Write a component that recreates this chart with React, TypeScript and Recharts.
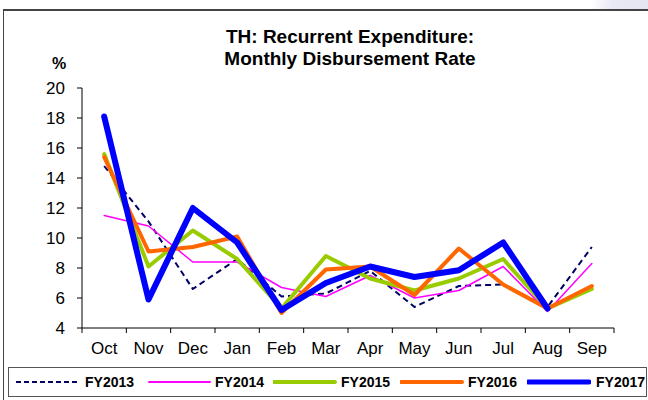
import { LineChart, Line, XAxis, YAxis } from 'recharts';

const months = ['Oct', 'Nov', 'Dec', 'Jan', 'Feb', 'Mar', 'Apr', 'May', 'Jun', 'Jul', 'Aug', 'Sep'];
const fy2013 = [14.8, 11.1, 6.6, 8.6, 6.1, 6.3, 7.8, 5.4, 6.8, 6.9, 5.4, 9.4];
const fy2014 = [11.5, 10.8, 8.4, 8.4, 6.7, 6.1, 7.5, 6.0, 6.5, 8.1, 5.1, 8.3];
const fy2015 = [15.6, 8.1, 10.5, 8.6, 5.3, 8.8, 7.3, 6.5, 7.3, 8.6, 5.3, 6.6];
const fy2016 = [15.4, 9.1, 9.4, 10.1, 5.0, 7.9, 8.1, 6.2, 9.3, 6.9, 5.3, 6.8];
const fy2017 = [18.1, 5.9, 12.0, 9.7, 5.2, 7.0, 8.1, 7.4, 7.85, 9.7, 5.3, null];
const yTicks = [4, 6, 8, 10, 12, 14, 16, 18, 20];

// x positions: band centres on a 0..12 numeric axis so tick marks sit between months
const chartData = months.map((m, i) => ({
    month: m,
    pos: i + 0.5,
    FY2013: fy2013[i],
    FY2014: fy2014[i],
    FY2015: fy2015[i],
    FY2016: fy2016[i],
    FY2017: fy2017[i],
}));

const series = [
    { key: 'FY2013', color: '#000066', width: 2, dash: '6 4', lx: 15, tx: 85 },
    { key: 'FY2014', color: '#ff00ff', width: 1.5, dash: undefined, lx: 148, tx: 215 },
    { key: 'FY2015', color: '#99cc00', width: 4, dash: undefined, lx: 273, tx: 341 },
    { key: 'FY2016', color: '#ff6600', width: 4, dash: undefined, lx: 400, tx: 468 },
    { key: 'FY2017', color: '#0000ff', width: 6, dash: undefined, lx: 527, tx: 596 },
];

const boundaryTicks = months.map((_, i) => i).concat([12]);
const labelTicks = months.map((_, i) => i + 0.5);

export default function App() {
    return (
        <div style={{ position: 'relative', width: 648, height: 400, background: '#fff', fontFamily: 'Arial, "Liberation Sans", sans-serif', overflow: 'hidden' }}>
            <style>{`body{margin:0}`}</style>
            <div style={{ position: 'absolute', left: 560, top: 0, width: 88, height: 10, background: 'linear-gradient(100deg, #fff 0%, #fff 35%, #e8e8f4 60%, #e6e6f2 100%)' }} />
            <div style={{ position: 'absolute', left: 3, top: 9, width: 660, height: 400, borderTop: '2px solid #444', borderLeft: '1px solid #444' }} />

            <div style={{ position: 'absolute', left: 150, width: 400, top: 26, textAlign: 'center', fontWeight: 'bold', fontSize: 19, lineHeight: '22px', color: '#000' }}>
                <div style={{ height: 22 }}>TH: Recurrent Expenditure:</div>
                <div style={{ height: 22 }}>Monthly Disbursement Rate</div>
            </div>
            <div style={{ position: 'absolute', left: 52, top: 55, fontWeight: 'bold', fontSize: 16, color: '#000' }}>%</div>

            <div style={{ position: 'absolute', left: 0, top: 0 }}>
                <LineChart width={648} height={400} data={chartData} margin={{ top: 88, right: 34, left: 22, bottom: 41 }}>
                    <XAxis
                        xAxisId="grid"
                        type="number"
                        dataKey="pos"
                        domain={[0, 12]}
                        ticks={boundaryTicks}
                        tickFormatter={() => ''}
                        tickSize={5}
                        height={1}
                        allowDataOverflow
                        axisLine={{ stroke: '#000' }}
                        tickLine={{ stroke: '#000' }}
                    />
                    <XAxis
                        xAxisId="lab"
                        type="number"
                        dataKey="pos"
                        domain={[0, 12]}
                        ticks={labelTicks}
                        tickFormatter={(v: number) => months[Math.floor(v)]}
                        allowDataOverflow
                        axisLine={false}
                        tickLine={false}
                        tickSize={0}
                        tickMargin={13}
                        height={30}
                        interval={0}
                        tick={{ fill: '#000', fontSize: 17 }}
                    />
                    <YAxis
                        domain={[4, 20]}
                        ticks={yTicks}
                        width={60}
                        tickSize={5}
                        tickMargin={12}
                        interval={0}
                        axisLine={{ stroke: '#000' }}
                        tickLine={{ stroke: '#000' }}
                        tick={{ fill: '#000', fontSize: 17 }}
                    />
                    {series.map((s) => (
                        <Line
                            key={s.key}
                            xAxisId="grid"
                            dataKey={s.key}
                            stroke={s.color}
                            strokeWidth={s.width}
                            strokeDasharray={s.dash}
                            strokeLinejoin="round"
                            strokeLinecap={s.dash ? 'butt' : 'round'}
                            dot={false}
                            activeDot={false}
                            type="linear"
                            isAnimationActive={false}
                        />
                    ))}
                </LineChart>
            </div>

            <div style={{ position: 'absolute', left: 8, top: 367, width: 637, height: 28, border: '1px solid #555', background: '#fff' }}>
                {series.map((s) => (
                    <div key={s.key}>
                        <svg style={{ position: 'absolute', left: s.lx - 9, top: 8, width: 64, height: 12 }}>
                            <line x1={1} y1={6} x2={62} y2={6} stroke={s.color} strokeWidth={s.width === 6 ? 5 : s.width === 1.5 ? 2 : s.width} strokeDasharray={s.dash ? '5 3' : undefined} strokeLinecap={s.dash ? 'butt' : 'round'} />
                        </svg>
                        <span style={{ position: 'absolute', left: s.tx - 9, top: 6, fontWeight: 'bold', fontSize: 14, color: '#000', lineHeight: '16px' }}>{s.key}</span>
                    </div>
                ))}
            </div>
        </div>
    );
}
